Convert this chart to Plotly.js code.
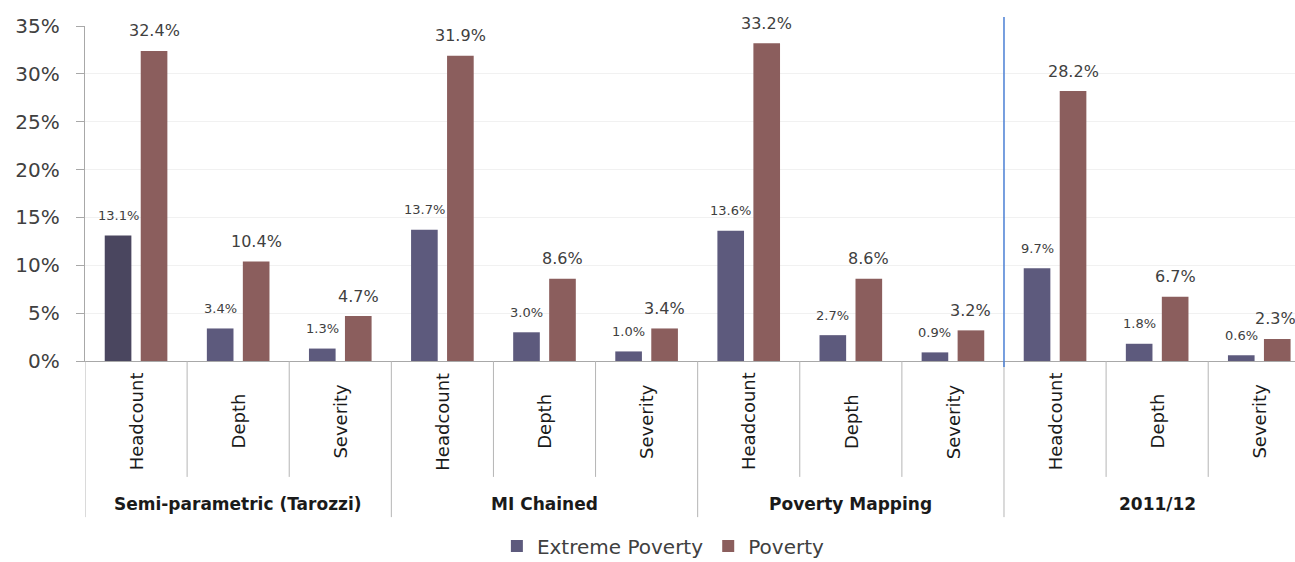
<!DOCTYPE html>
<html>
<head>
<meta charset="utf-8">
<script src="https://cdn.plot.ly/plotly-3.0.1.min.js"></script>
<style>
  html, body { margin: 0; padding: 0; background: #ffffff; }
  #chart { width: 1295px; height: 562px; }
</style>
</head>
<body>
<div id="chart"></div>
<script>
// ---- data ----
const groups = ["Semi-parametric (Tarozzi)", "MI Chained", "Poverty Mapping", "2011/12"];
const measures = ["Headcount", "Depth", "Severity"];
const extremePoverty = [13.1, 3.4, 1.3, 13.7, 3.0, 1.0, 13.6, 2.7, 0.9, 9.7, 1.8, 0.6];
const poverty = [32.4, 10.4, 4.7, 31.9, 8.6, 3.4, 33.2, 8.6, 3.2, 28.2, 6.7, 2.3];
const yTicks = [0, 5, 10, 15, 20, 25, 30, 35];

// ---- build ----
const n = extremePoverty.length;
const xs = extremePoverty.map((_, i) => i);
const subLabels = xs.map(i => measures[i % measures.length]);

const bargap = 0.295;
const slot = (1 - bargap) / 2;
const off = slot / 2;

const extremeColors = xs.map(i => i === 0 ? "#4a465f" : "#5d5a7d");
// points listed last-to-first so the legend swatch takes the regular colour
const rev = a => a.slice().reverse();

const traces = [
  {
    type: "bar", name: "Extreme Poverty", x: rev(xs), y: rev(extremePoverty),
    marker: { color: rev(extremeColors), line: { width: 0 } },
    hoverinfo: "skip"
  },
  {
    type: "bar", name: "Poverty", x: xs, y: poverty,
    marker: { color: "#8b5e5d", line: { width: 0 } },
    hoverinfo: "skip"
  }
];

const annotations = [];
xs.forEach(i => {
  annotations.push({
    x: i - off, y: extremePoverty[i], xref: "x", yref: "y",
    text: extremePoverty[i].toFixed(1) + "%", showarrow: false,
    yanchor: "middle", yshift: 20,
    font: { family: "DejaVu Sans", size: 13, color: "#404040" }
  });
  annotations.push({
    x: i + off, y: poverty[i], xref: "x", yref: "y",
    text: poverty[i].toFixed(1) + "%", showarrow: false,
    yanchor: "middle", yshift: 20, xshift: i === n - 1 ? -2 : 0,
    font: { family: "DejaVu Sans", size: 16, color: "#404040" }
  });
  annotations.push({
    x: i, y: -0.18, xref: "x", yref: "paper",
    text: subLabels[i], showarrow: false, textangle: -90,
    xanchor: "center", yanchor: "middle",
    font: { family: "DejaVu Sans", size: 18, color: "#1a1a1a" }
  });
});
groups.forEach((g, k) => {
  annotations.push({
    x: k * measures.length + (measures.length - 1) / 2, y: -0.427,
    xref: "x", yref: "paper", text: "<b>" + g + "</b>", showarrow: false,
    xanchor: "center", yanchor: "middle",
    font: { family: "DejaVu Sans", size: 17, color: "#1a1a1a" }
  });
});

const shapes = [];
for (let i = 0; i <= n; i++) {
  const isGroup = i % measures.length === 0;
  shapes.push({
    type: "line", xref: "x", yref: "paper",
    x0: i - 0.5, x1: i - 0.5, y0: 0, y1: isGroup ? -0.466 : -0.346,
    line: { color: "#b5b5b5", width: 1 }
  });
}
// blue separator before the 2011/12 group
shapes.push({
  type: "line", xref: "x", yref: "paper",
  x0: 3 * measures.length - 0.5, x1: 3 * measures.length - 0.5, y0: -0.018, y1: 1.027,
  line: { color: "#4a7fd4", width: 1.5 }
});

const layout = {
  width: 1295, height: 562,
  margin: { l: 85, r: 0, t: 26, b: 201, autoexpand: false },
  paper_bgcolor: "#ffffff", plot_bgcolor: "#ffffff",
  barmode: "group", bargap: bargap, bargroupgap: 0.26,
  font: { family: "DejaVu Sans", color: "#404040" },
  xaxis: {
    range: [-0.5, 11.35], showticklabels: false, ticks: "",
    showgrid: false, zeroline: false, showline: true,
    linecolor: "#a8a8a8", linewidth: 1.2, fixedrange: true
  },
  yaxis: {
    range: [0, 35], tickvals: yTicks, ticktext: yTicks.map(v => v + "%"),
    ticks: "outside", ticklen: 8, tickcolor: "#a8a8a8",
    ticklabelstandoff: 12,
    showline: true, linecolor: "#a8a8a8", linewidth: 1.2,
    showgrid: true, gridcolor: "#f1f1f1", zeroline: false,
    tickfont: { family: "DejaVu Sans", size: 20, color: "#404040" },
    fixedrange: true
  },
  showlegend: true,
  legend: {
    orientation: "h", x: 0.478, xanchor: "center", y: -0.552, yanchor: "middle",
    font: { family: "DejaVu Sans", size: 20, color: "#404040" },
    itemwidth: 30, bgcolor: "rgba(0,0,0,0)"
  },
  annotations: annotations,
  shapes: shapes
};

Plotly.newPlot("chart", traces, layout, { displayModeBar: false, staticPlot: true });
</script>
</body>
</html>
